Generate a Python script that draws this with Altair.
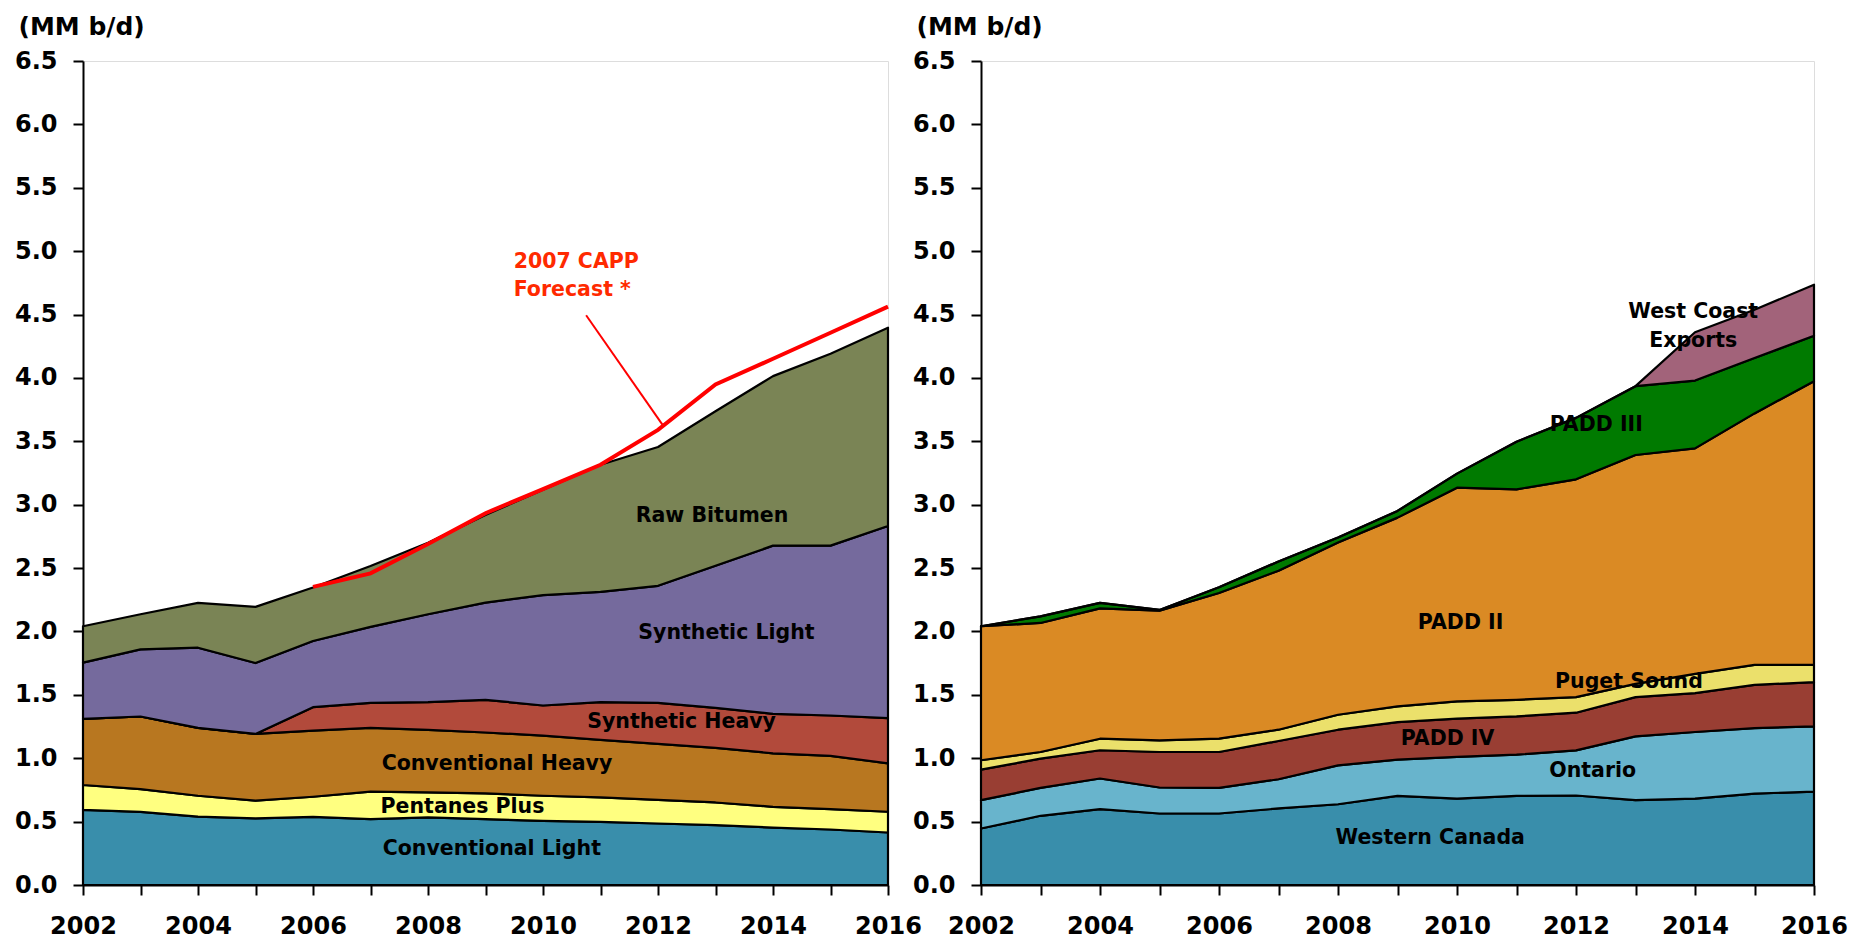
import altair as alt
import pandas as pd

# ---------------- data ----------------
years = list(range(2002, 2017))

left_series = ["Conventional Light", "Pentanes Plus", "Conventional Heavy",
               "Synthetic Heavy", "Synthetic Light", "Raw Bitumen"]
left_colors = ["#398EAB", "#FFFF80", "#B87720", "#B24A3B", "#756A9D", "#7A8455"]

conventional_light = [0.593, 0.577, 0.540, 0.525, 0.538, 0.520, 0.533, 0.520, 0.506, 0.498, 0.485, 0.472, 0.453, 0.438, 0.414]
pentanes_plus      = [0.196, 0.180, 0.164, 0.140, 0.158, 0.216, 0.197, 0.202, 0.198, 0.193, 0.187, 0.179, 0.164, 0.161, 0.164]
conventional_heavy = [0.522, 0.572, 0.536, 0.527, 0.522, 0.504, 0.494, 0.481, 0.475, 0.454, 0.441, 0.430, 0.422, 0.419, 0.382]
synthetic_heavy    = [0.000, 0.000, 0.000, 0.000, 0.185, 0.197, 0.218, 0.258, 0.237, 0.297, 0.324, 0.316, 0.311, 0.319, 0.356]
synthetic_light    = [0.443, 0.530, 0.632, 0.559, 0.522, 0.599, 0.694, 0.767, 0.870, 0.871, 0.923, 1.121, 1.327, 1.340, 1.516]
raw_bitumen        = [0.287, 0.277, 0.354, 0.443, 0.422, 0.480, 0.564, 0.691, 0.831, 1.002, 1.095, 1.219, 1.337, 1.513, 1.564]
left_values = [conventional_light, pentanes_plus, conventional_heavy,
               synthetic_heavy, synthetic_light, raw_bitumen]

forecast_years = list(range(2006, 2017))
capp_forecast = [2.352, 2.458, 2.690, 2.933, 3.123, 3.315, 3.590, 3.948, 4.151, 4.356, 4.562]

right_series = ["Western Canada", "Ontario", "PADD IV", "Puget Sound",
                "PADD II", "PADD III", "West Coast Exports"]
right_colors = ["#398EAB", "#68B4CC", "#993E33", "#EBE06B", "#DA8A24", "#007A00", "#A2637A"]

western_canada = [0.446, 0.546, 0.598, 0.564, 0.564, 0.604, 0.637, 0.703, 0.682, 0.703, 0.706, 0.669, 0.682, 0.721, 0.737]
ontario        = [0.223, 0.220, 0.242, 0.205, 0.202, 0.230, 0.307, 0.286, 0.328, 0.325, 0.356, 0.503, 0.525, 0.517, 0.514]
padd_iv        = [0.241, 0.231, 0.223, 0.280, 0.283, 0.302, 0.281, 0.296, 0.302, 0.302, 0.297, 0.310, 0.306, 0.341, 0.349]
puget_sound    = [0.074, 0.052, 0.091, 0.092, 0.105, 0.089, 0.118, 0.124, 0.136, 0.131, 0.123, 0.105, 0.153, 0.158, 0.137]
padd_ii        = [1.057, 1.018, 1.028, 1.023, 1.149, 1.254, 1.358, 1.489, 1.686, 1.660, 1.718, 1.805, 1.778, 1.983, 2.237]
padd_iii       = [0.000, 0.052, 0.043, 0.006, 0.045, 0.073, 0.040, 0.053, 0.111, 0.376, 0.485, 0.543, 0.535, 0.437, 0.359]
west_coast     = [0.000, 0.000, 0.000, 0.000, 0.000, 0.000, 0.000, 0.000, 0.000, 0.000, 0.000, 0.000, 0.381, 0.381, 0.402]
right_values = [western_canada, ontario, padd_iv, puget_sound, padd_ii, padd_iii, west_coast]

y_ticks = [0.0, 0.5, 1.0, 1.5, 2.0, 2.5, 3.0, 3.5, 4.0, 4.5, 5.0, 5.5, 6.0, 6.5]

# in-chart labels (data coordinates)
left_label_text = ["Raw Bitumen", "Synthetic Light", "Synthetic Heavy", "Conventional Heavy",
                   "Pentanes Plus", "Conventional Light"]
left_label_x = [2012.94, 2013.19, 2012.41, 2009.2, 2008.6, 2009.11]
left_label_y = [2.914, 1.991, 1.284, 0.956, 0.617, 0.282]

annot_text = ["2007 CAPP", "Forecast *"]
annot_x = [2009.49, 2009.49]
annot_y = [4.913, 4.695]
pointer_x = [2010.75]
pointer_y = [4.494]
pointer_x2 = [2012.08]
pointer_y2 = [3.63]

right_label_text = ["West Coast", "Exports", "PADD III", "PADD II", "Puget Sound",
                    "PADD IV", "Ontario", "Western Canada"]
right_label_x = [2013.97, 2013.97, 2012.34, 2010.06, 2012.89, 2009.84, 2012.28, 2009.55]
right_label_y = [4.518, 4.291, 3.628, 2.067, 1.603, 1.154, 0.9, 0.367]

# ---------------- tables ----------------
def stack_table(names, values):
    rows = []
    for i, (n, vals) in enumerate(zip(names, values)):
        for yr, v in zip(years, vals):
            rows.append({"year": yr, "value": v, "series": n, "order": i})
    return pd.DataFrame(rows)

left_df = stack_table(left_series, left_values)
right_df = stack_table(right_series, right_values)
forecast_df = pd.DataFrame({"year": forecast_years, "value": capp_forecast})
left_labels_df = pd.DataFrame({"year": left_label_x, "value": left_label_y, "text": left_label_text})
annot_df = pd.DataFrame({"year": annot_x, "value": annot_y, "text": annot_text})
pointer_df = pd.DataFrame({"year": pointer_x, "value": pointer_y, "year2": pointer_x2, "value2": pointer_y2})
right_labels_df = pd.DataFrame({"year": right_label_x, "value": right_label_y, "text": right_label_text})

# ---------------- styling ----------------
FONT = "DejaVu Sans"

x_axis = alt.Axis(
    values=years, labelExpr="datum.value % 2 == 0 ? '' + datum.value : ''",
    title=None, grid=False, tickSize=10, tickWidth=2, tickColor="black",
    domainColor="black", domainWidth=2, labelFont=FONT, labelFontWeight="bold",
    labelFontSize=24, labelColor="black", labelPadding=19, labelFlush=False,
    labelOverlap=False,
)
y_axis = alt.Axis(
    values=y_ticks, format=".1f", title="(MM b/d)", titleAngle=0, titleAlign="left",
    titleBaseline="top", titleX=-65, titleY=-47, titleFont=FONT, titleFontSize=25,
    titleFontWeight="bold", titleColor="black", grid=False, tickSize=10, tickWidth=2,
    tickColor="black", domainColor="black", domainWidth=2, labelFont=FONT,
    labelFontWeight="bold", labelFontSize=24, labelColor="black", labelPadding=16,
    labelFlush=False, labelOverlap=False,
)
x_scale = alt.Scale(domain=[2002, 2016], nice=False, zero=False)
y_scale = alt.Scale(domain=[0, 6.5], nice=False)


def X(field="year"):
    return alt.X(f"{field}:Q", scale=x_scale, axis=x_axis)


def Y(field="value", stack=None):
    if stack:
        return alt.Y(f"{field}:Q", scale=y_scale, axis=y_axis, stack=stack)
    return alt.Y(f"{field}:Q", scale=y_scale, axis=y_axis)


def areas(df, names, colors):
    return alt.Chart(df).mark_area(stroke="black", strokeWidth=2.2, strokeJoin="round").encode(
        x=X(), y=Y(stack="zero"),
        color=alt.Color("series:N", scale=alt.Scale(domain=names, range=colors), legend=None),
        order=alt.Order("order:Q"),
    )


def labels(df, color="black", align="center"):
    return alt.Chart(df).mark_text(
        font=FONT, fontWeight="bold", fontSize=20.5, color=color, align=align, baseline="middle"
    ).encode(x=X(), y=Y(), text="text:N")


left_area = areas(left_df, left_series, left_colors)
forecast_line = alt.Chart(forecast_df).mark_line(color="#FF0000", strokeWidth=4).encode(x=X(), y=Y())
pointer = alt.Chart(pointer_df).mark_rule(color="#FF0000", strokeWidth=2).encode(
    x=X(), y=Y(), x2="year2:Q", y2="value2:Q")

left = alt.layer(
    left_area, forecast_line, pointer,
    labels(left_labels_df),
    labels(annot_df, color="#FF2A00", align="left"),
).properties(width=805, height=824)

right = alt.layer(
    areas(right_df, right_series, right_colors),
    labels(right_labels_df),
).properties(width=833, height=824)

chart = alt.hconcat(left, right, spacing=93, bounds="flush").resolve_scale(
    color="independent", x="independent", y="independent"
).configure_view(stroke=None).configure(background="white")

chart.save("out.html", embed_options={"renderer": "svg", "actions": False})
